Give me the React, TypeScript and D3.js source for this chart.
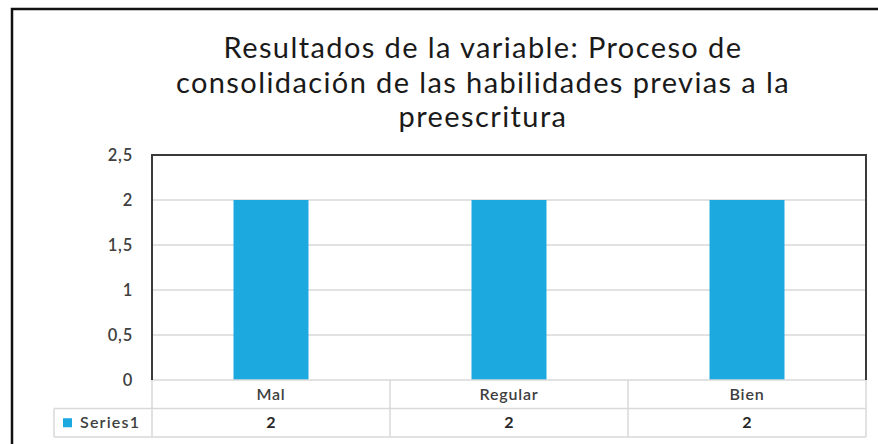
import React, { useEffect, useRef } from "react";
import * as d3 from "d3";

const titleLines = [
  "Resultados de la variable: Proceso de",
  "consolidación de las habilidades previas a la",
  "preescritura",
];
const categories = ["Mal", "Regular", "Bien"];
const seriesName = "Series1";
const seriesValues = [2, 2, 2];
const yTicks = [0, 0.5, 1, 1.5, 2, 2.5];

export default function App() {
  const ref = useRef<SVGSVGElement | null>(null);

  useEffect(() => {
    document.body.style.margin = "0";
    const svg = d3.select(ref.current);
    svg.selectAll("*").remove();

    const font = "Lato, 'Open Sans', sans-serif";
    const plot = { left: 152, right: 866, top: 155, bottom: 380 };
    const rowH = 28.5;
    const legendLeft = 54;
    const grid = "#d9d9d9";
    const dark = "#3a3a3a";
    const textColor = "#404040";

    const x = d3.scaleBand().domain(categories).range([plot.left, plot.right]).padding(0);
    const y = d3.scaleLinear().domain([0, 2.5]).range([plot.bottom, plot.top]);
    const barW = x.bandwidth() * 0.315;

    // outer frame
    svg.append("path")
      .attr("d", `M12,444 L12,9 L900,9`)
      .attr("fill", "none")
      .attr("stroke", "#111")
      .attr("stroke-width", 2.5);

    // title
    svg.append("g")
      .selectAll("text")
      .data(titleLines)
      .enter()
      .append("text")
      .attr("x", 483)
      .attr("y", (d, i) => 58 + i * 34.5)
      .attr("text-anchor", "middle")
      .attr("font-family", font)
      .attr("font-size", 29)
      .attr("letter-spacing", 1.4)
      .attr("fill", "#1a1a1a")
      .text((d) => d);

    // gridlines
    svg.append("g")
      .selectAll("line")
      .data(yTicks.filter((t) => t > 0 && t < 2.5))
      .enter()
      .append("line")
      .attr("x1", plot.left)
      .attr("x2", plot.right)
      .attr("y1", (d) => y(d))
      .attr("y2", (d) => y(d))
      .attr("stroke", grid)
      .attr("stroke-width", 1.5);

    // y tick labels
    svg.append("g")
      .selectAll("text")
      .data(yTicks)
      .enter()
      .append("text")
      .attr("x", 133)
      .attr("y", (d) => y(d))
      .attr("dy", "0.35em")
      .attr("text-anchor", "end")
      .attr("font-family", font)
      .attr("font-size", 16.5)
      .attr("letter-spacing", 0.8)
      .attr("font-weight", 600)
      .attr("fill", textColor)
      .text((d) => String(d).replace(".", ","));

    // bars
    svg.append("g")
      .selectAll("rect")
      .data(seriesValues)
      .enter()
      .append("rect")
      .attr("x", (d, i) => (x(categories[i]) as number) + (x.bandwidth() - barW) / 2)
      .attr("y", (d) => y(d))
      .attr("width", barW)
      .attr("height", (d) => y(0) - y(d))
      .attr("fill", "#1ba9e0");

    // data table
    const table = svg.append("g").attr("stroke", grid).attr("stroke-width", 1.5);
    const r1 = plot.bottom + rowH;
    const r2 = plot.bottom + rowH * 2;
    table.append("line").attr("x1", plot.left).attr("x2", plot.right).attr("y1", plot.bottom).attr("y2", plot.bottom);
    table.append("line").attr("x1", legendLeft).attr("x2", plot.right).attr("y1", r1).attr("y2", r1);
    table.append("line").attr("x1", legendLeft).attr("x2", plot.right).attr("y1", r2).attr("y2", r2);
    table.append("line").attr("x1", legendLeft).attr("x2", legendLeft).attr("y1", r1).attr("y2", r2);
    table.selectAll(".v")
      .data([...categories.map((c) => x(c) as number), plot.right])
      .enter()
      .append("line")
      .attr("x1", (d) => d)
      .attr("x2", (d) => d)
      .attr("y1", plot.bottom)
      .attr("y2", r2);

    svg.append("g")
      .selectAll("text")
      .data(categories)
      .enter()
      .append("text")
      .attr("x", (d) => (x(d) as number) + x.bandwidth() / 2)
      .attr("y", plot.bottom + rowH / 2)
      .attr("dy", "0.35em")
      .attr("text-anchor", "middle")
      .attr("font-family", font)
      .attr("font-size", 16)
      .attr("letter-spacing", 0.8)
      .attr("font-weight", 600)
      .attr("fill", textColor)
      .text((d) => d);

    svg.append("g")
      .selectAll("text")
      .data(seriesValues)
      .enter()
      .append("text")
      .attr("x", (d, i) => (x(categories[i]) as number) + x.bandwidth() / 2)
      .attr("y", r1 + rowH / 2)
      .attr("dy", "0.35em")
      .attr("text-anchor", "middle")
      .attr("font-family", font)
      .attr("font-size", 16)
      .attr("font-weight", 700)
      .attr("fill", "#262626")
      .text((d) => String(d));

    // legend key in table
    svg.append("rect")
      .attr("x", 63)
      .attr("y", r1 + rowH / 2 - 4.5)
      .attr("width", 9)
      .attr("height", 9)
      .attr("fill", "#1ba9e0");
    svg.append("text")
      .attr("x", 80)
      .attr("y", r1 + rowH / 2)
      .attr("dy", "0.35em")
      .attr("font-family", font)
      .attr("font-size", 16)
      .attr("letter-spacing", 1.2)
      .attr("font-weight", 600)
      .attr("fill", textColor)
      .text(seriesName);

    // plot area dark frame (left, top, right)
    svg.append("path")
      .attr("d", `M${plot.left},${plot.bottom} L${plot.left},${plot.top} L${plot.right},${plot.top} L${plot.right},${plot.bottom}`)
      .attr("fill", "none")
      .attr("stroke", dark)
      .attr("stroke-width", 2);
  }, []);

  return <svg ref={ref} width={878} height={444} style={{ display: "block", background: "#fff" }} />;
}
